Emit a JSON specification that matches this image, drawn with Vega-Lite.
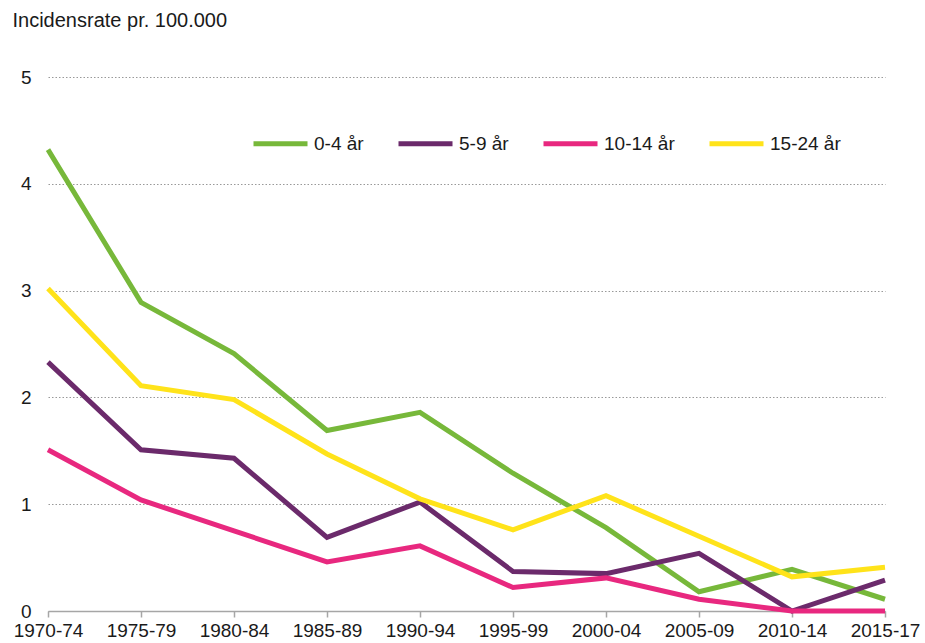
{
  "$schema": "https://vega.github.io/schema/vega-lite/v6.json",
  "width": 837,
  "height": 534,
  "autosize": {"type": "none"},
  "padding": {"left": 48, "top": 77, "right": 40, "bottom": 32},
  "background": "white",
  "config": {
    "font": "Liberation Sans",
    "view": {"stroke": null}
  },
  "data": {
    "values": [
      {"period": "1970-74", "group": "0-4 år", "rate": 4.32},
      {"period": "1975-79", "group": "0-4 år", "rate": 2.89},
      {"period": "1980-84", "group": "0-4 år", "rate": 2.41},
      {"period": "1985-89", "group": "0-4 år", "rate": 1.69},
      {"period": "1990-94", "group": "0-4 år", "rate": 1.86},
      {"period": "1995-99", "group": "0-4 år", "rate": 1.29},
      {"period": "2000-04", "group": "0-4 år", "rate": 0.78},
      {"period": "2005-09", "group": "0-4 år", "rate": 0.18},
      {"period": "2010-14", "group": "0-4 år", "rate": 0.39},
      {"period": "2015-17", "group": "0-4 år", "rate": 0.11},
      {"period": "1970-74", "group": "5-9 år", "rate": 2.33},
      {"period": "1975-79", "group": "5-9 år", "rate": 1.51},
      {"period": "1980-84", "group": "5-9 år", "rate": 1.43},
      {"period": "1985-89", "group": "5-9 år", "rate": 0.69},
      {"period": "1990-94", "group": "5-9 år", "rate": 1.02},
      {"period": "1995-99", "group": "5-9 år", "rate": 0.37},
      {"period": "2000-04", "group": "5-9 år", "rate": 0.35},
      {"period": "2005-09", "group": "5-9 år", "rate": 0.54},
      {"period": "2010-14", "group": "5-9 år", "rate": 0.0},
      {"period": "2015-17", "group": "5-9 år", "rate": 0.29},
      {"period": "1970-74", "group": "10-14 år", "rate": 1.51},
      {"period": "1975-79", "group": "10-14 år", "rate": 1.04},
      {"period": "1980-84", "group": "10-14 år", "rate": 0.75},
      {"period": "1985-89", "group": "10-14 år", "rate": 0.46},
      {"period": "1990-94", "group": "10-14 år", "rate": 0.61},
      {"period": "1995-99", "group": "10-14 år", "rate": 0.22},
      {"period": "2000-04", "group": "10-14 år", "rate": 0.31},
      {"period": "2005-09", "group": "10-14 år", "rate": 0.11},
      {"period": "2010-14", "group": "10-14 år", "rate": 0.0},
      {"period": "2015-17", "group": "10-14 år", "rate": 0.0},
      {"period": "1970-74", "group": "15-24 år", "rate": 3.02},
      {"period": "1975-79", "group": "15-24 år", "rate": 2.11},
      {"period": "1980-84", "group": "15-24 år", "rate": 1.98},
      {"period": "1985-89", "group": "15-24 år", "rate": 1.47},
      {"period": "1990-94", "group": "15-24 år", "rate": 1.05},
      {"period": "1995-99", "group": "15-24 år", "rate": 0.76},
      {"period": "2000-04", "group": "15-24 år", "rate": 1.08},
      {"period": "2005-09", "group": "15-24 år", "rate": 0.70},
      {"period": "2010-14", "group": "15-24 år", "rate": 0.32},
      {"period": "2015-17", "group": "15-24 år", "rate": 0.41}
    ]
  },
  "mark": {"type": "line", "strokeWidth": 5, "strokeJoin": "miter", "strokeCap": "butt"},
  "encoding": {
    "x": {
      "field": "period",
      "type": "ordinal",
      "sort": null,
      "scale": {"type": "point", "padding": 0},
      "axis": {
        "title": null,
        "labelAngle": 0,
        "labelFontSize": 19,
        "labelColor": "#1a1a1a",
        "labelPadding": 4,
        "domainColor": "#a6a6a6",
        "domainWidth": 1.5,
        "tickColor": "#a6a6a6",
        "tickSize": 6,
        "tickWidth": 1.5,
        "grid": false
      }
    },
    "y": {
      "field": "rate",
      "type": "quantitative",
      "scale": {"domain": [0, 5], "nice": false},
      "axis": {
        "title": "Incidensrate pr. 100.000",
        "titleAngle": 0,
        "titleAlign": "left",
        "titleBaseline": "top",
        "titleX": -36,
        "titleY": -67,
        "titleFontSize": 20,
        "titleFontWeight": "normal",
        "titleColor": "#1a1a1a",
        "values": [0, 1, 2, 3, 4, 5],
        "labelFontSize": 19,
        "labelColor": "#1a1a1a",
        "labelPadding": 17,
        "domain": false,
        "ticks": false,
        "grid": true,
        "gridColor": "#999999",
        "gridDash": [1.5, 2],
        "gridWidth": 1.2
      }
    },
    "color": {
      "field": "group",
      "type": "nominal",
      "sort": ["0-4 år", "5-9 år", "10-14 år", "15-24 år"],
      "scale": {
        "domain": ["0-4 år", "5-9 år", "10-14 år", "15-24 år"],
        "range": ["#77b83a", "#6b2a6b", "#e8287f", "#ffe31a"]
      },
      "legend": {
        "title": null,
        "orient": "none",
        "direction": "horizontal",
        "legendX": 203,
        "legendY": 37,
        "symbolType": "stroke",
        "symbolSize": 2916,
        "symbolStrokeWidth": 5,
        "symbolOffset": 0,
        "labelFontSize": 19,
        "labelColor": "#1a1a1a",
        "labelOffset": 4,
        "columnPadding": 24
      }
    }
  }
}
